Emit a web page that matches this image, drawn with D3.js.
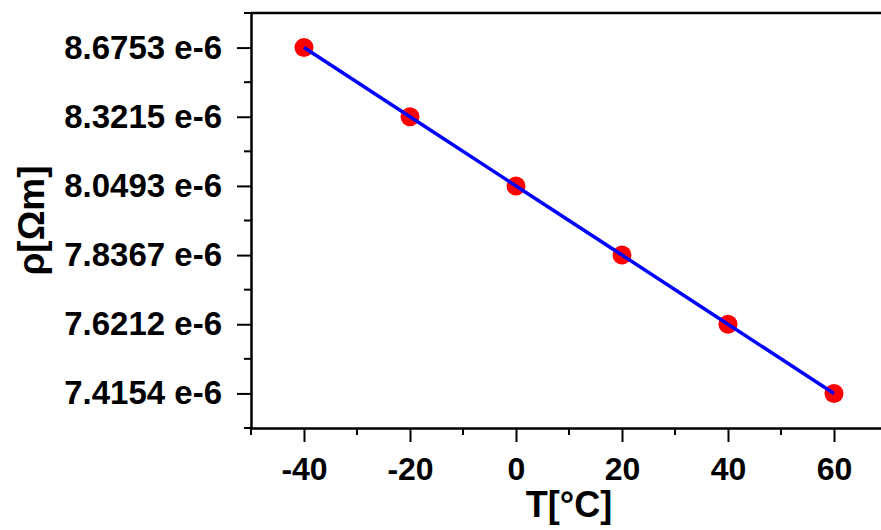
<!DOCTYPE html>
<html>
<head>
<meta charset="utf-8">
<script src="https://cdn.jsdelivr.net/npm/d3@7"></script>
<style>
  body { margin: 0; background: #fff; }
  text { font-family: "Liberation Sans", Arial, sans-serif; font-weight: bold; fill: #000; }
</style>
</head>
<body>
<div id="chart"></div>
<script>
// Data
var temps = [-40, -20, 0, 20, 40, 60];
var rho = [8.6753, 8.3215, 8.0493, 7.8367, 7.6212, 7.4154]; // x 1e-6
var xMajorTicks = [-40, -20, 0, 20, 40, 60];
var xMinorTicks = [-50, -30, -10, 10, 30, 50, 70];

var svgWidth = 881;
var svgHeight = 530;

var margin = { top: 13, right: -6, bottom: 102, left: 251 };
var chartWidth = svgWidth - margin.left - margin.right;
var chartHeight = svgHeight - margin.top - margin.bottom;

var svg = d3.select("#chart")
  .append("svg")
  .attr("width", svgWidth)
  .attr("height", svgHeight);

var chartGroup = svg.append("g")
  .attr("transform", `translate(${margin.left}, ${margin.top})`);

// x is linear in temperature, y is one evenly spaced slot per measured value
var xScale = d3.scaleLinear()
  .domain([-50, 70])
  .range([0, chartWidth]);

var yScale = d3.scalePoint()
  .domain(rho)
  .range([0, chartHeight])
  .padding(0.5);

// minor y ticks sit half way between the slots and at both ends
var yStep = yScale.step();
var yMinor = d3.range(rho.length + 1).map(i => yScale(rho[0]) - yStep / 2 + i * yStep);

// frame top and right
chartGroup.append("line")
  .attr("x1", 0).attr("x2", chartWidth)
  .attr("y1", 0).attr("y2", 0)
  .attr("stroke", "#000").attr("stroke-width", 2.5);
chartGroup.append("line")
  .attr("x1", chartWidth).attr("x2", chartWidth)
  .attr("y1", 0).attr("y2", chartHeight)
  .attr("stroke", "#000").attr("stroke-width", 2.5);

// minor ticks
chartGroup.selectAll(".yminor")
  .data(yMinor)
  .enter()
  .append("line")
  .attr("x1", -7).attr("x2", 0)
  .attr("y1", d => d).attr("y2", d => d)
  .attr("stroke", "#000").attr("stroke-width", 2);

chartGroup.selectAll(".xminor")
  .data(xMinorTicks)
  .enter()
  .append("line")
  .attr("x1", d => xScale(d)).attr("x2", d => xScale(d))
  .attr("y1", chartHeight).attr("y2", chartHeight + 7)
  .attr("stroke", "#000").attr("stroke-width", 2);

// axes
var leftAxis = d3.axisLeft(yScale)
  .tickSizeInner(14)
  .tickSizeOuter(0)
  .tickPadding(15)
  .tickFormat(d => d.toFixed(4) + " e-6");

var bottomAxis = d3.axisBottom(xScale)
  .tickValues(xMajorTicks)
  .tickSizeInner(14)
  .tickSizeOuter(0)
  .tickPadding(15)
  .tickFormat(d => String(d)); // plain hyphen for negatives

var yAxis = chartGroup.append("g").call(leftAxis);
var xAxis = chartGroup.append("g")
  .attr("transform", `translate(0, ${chartHeight})`)
  .call(bottomAxis);

[xAxis, yAxis].forEach(function(ax) {
  ax.select(".domain").attr("stroke-width", 2.5);
  ax.selectAll(".tick line").attr("stroke-width", 2);
  ax.selectAll(".tick text")
    .attr("font-family", null)
    .attr("font-size", null)
    .style("font-size", "32px");
});
yAxis.selectAll(".tick text").style("font-size", "33px");

// points, then the fitted line on top of them
chartGroup.selectAll("circle")
  .data(temps)
  .enter()
  .append("circle")
  .attr("cx", d => xScale(d))
  .attr("cy", (d, i) => yScale(rho[i]))
  .attr("r", 9.5)
  .attr("fill", "#ff0000");

var line = d3.line()
  .x(d => xScale(d))
  .y((d, i) => yScale(rho[i]));

chartGroup.append("path")
  .datum(temps)
  .attr("d", line)
  .attr("fill", "none")
  .attr("stroke", "#0000ff")
  .attr("stroke-width", 3.5);

// axis titles
chartGroup.append("text")
  .attr("x", xScale(10))
  .attr("y", chartHeight + 89)
  .attr("text-anchor", "middle")
  .style("font-size", "36px")
  .text("T[°C]");

chartGroup.append("text")
  .attr("transform", "rotate(-90)")
  .attr("x", -(chartHeight / 2))
  .attr("y", 44 - margin.left)
  .attr("text-anchor", "middle")
  .style("font-size", "37px")
  .text("ρ[Ωm]");
</script>
</body>
</html>
